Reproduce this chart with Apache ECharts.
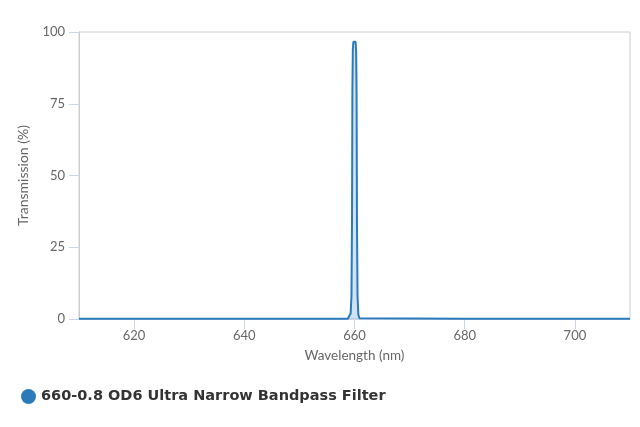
<!DOCTYPE html>
<html><head><meta charset="utf-8">
<script src="https://cdn.jsdelivr.net/npm/echarts@6/dist/echarts.min.js"></script>
<style>html,body{margin:0;padding:0;background:#fff}#c{width:640px;height:427px}</style>
</head><body><div id="c"></div>
<script>
const seriesName = '660-0.8 OD6 Ultra Narrow Bandpass Filter';
const wavelengths = [610, 640, 658.8, 659.1, 659.3, 659.45, 659.55, 659.62, 659.7, 659.8, 660.0, 660.2, 660.3, 660.38, 660.45, 660.55, 660.7, 660.9, 661.2, 680, 710];
const transmission = [0.1, 0.1, 0.1, 0.5, 2, 8, 35, 80, 94, 96.6, 97, 96.6, 93, 78, 33, 8, 1.5, 0.3, 0.1, 0.1, 0.1];
const xTicks = [620, 640, 660, 680, 700];
const yTicks = [0, 25, 50, 75, 100];

const color = '#2b7bba';
const chart = echarts.init(document.getElementById('c'));
chart.setOption({
  animation: false,
  textStyle: { fontFamily: 'Lato' },
  grid: { left: 79, right: 10, top: 32, bottom: 108, show: true, borderColor: '#cccccc', borderWidth: 1 },
  legend: {
    show: true, left: 16, top: 384, icon: 'circle', itemWidth: 15, itemHeight: 15, itemGap: 6,
    textStyle: { fontFamily: 'DejaVu Sans', fontWeight: 'bold', fontSize: 14.5, color: '#333333' }
  },
  xAxis: {
    type: 'value', min: 610, max: 710,
    axisLine: { show: true, lineStyle: { color: '#ccd6eb' } },
    axisTick: { show: true, length: 10, lineStyle: { color: '#ccd6eb' }, customValues: xTicks },
    axisLabel: { color: '#666666', fontSize: 13, margin: 10, customValues: xTicks },
    splitLine: { show: false },
    name: 'Wavelength (nm)', nameLocation: 'middle', nameGap: 30,
    nameTextStyle: { color: '#666666', fontSize: 13.5 }
  },
  yAxis: {
    type: 'value', min: 0, max: 100, interval: 25,
    axisLine: { show: true, lineStyle: { color: '#cccccc' } },
    axisTick: { show: true, inside: false, length: 10, lineStyle: { color: '#ccd6eb' } },
    axisLabel: { color: '#666666', fontSize: 13, margin: 14 },
    splitLine: { show: false },
    name: 'Transmission (%)', nameLocation: 'middle', nameGap: 49,
    nameTextStyle: { color: '#666666', fontSize: 14 }
  },
  series: [{
    name: seriesName, type: 'line', symbol: 'none', smooth: false,
    data: wavelengths.map((w, i) => [w, transmission[i]]),
    itemStyle: { color: color },
    lineStyle: { color: color, width: 2 },
    areaStyle: { color: 'rgba(43,123,186,0.3)' }
  }]
});
</script></body></html>
